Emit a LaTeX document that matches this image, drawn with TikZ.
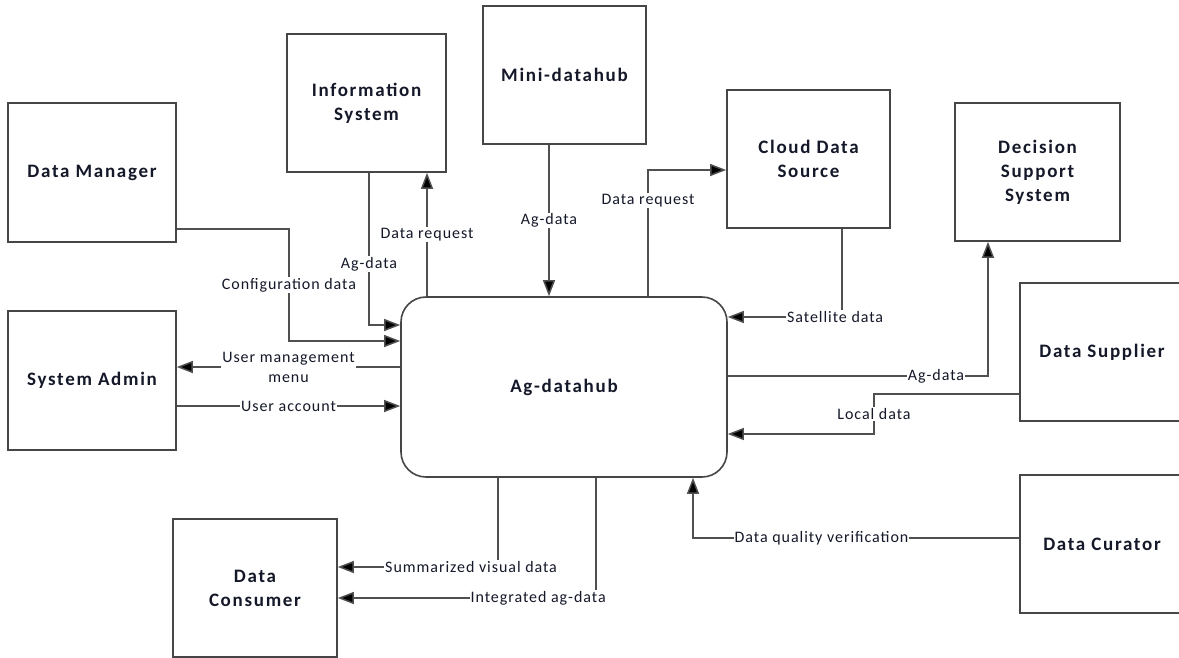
\documentclass[tikz,border=0pt]{standalone}
\usepackage{fontspec}
\setmainfont{Carlito}
\newfontfamily\entityfont[LetterSpace=9]{Carlito}
\newfontfamily\flowfont[LetterSpace=6]{Carlito}
\usetikzlibrary{arrows.meta}
\definecolor{edgegray}{RGB}{80,80,80}
\definecolor{boxgray}{RGB}{70,70,70}
\definecolor{inktext}{RGB}{20,24,40}
\tikzset{
  entity/.style={draw=boxgray, line width=1.6pt, fill=white, align=center,
    font=\entityfont\fontsize{19}{24}\selectfont\bfseries, text=inktext, inner sep=0pt},
  flow/.style={draw=edgegray, line width=1.5pt,
    -{Triangle[length=16pt,width=12pt,fill=black]}},
  lbl/.style={fill=white, inner sep=1pt, align=center,
    font=\flowfont\fontsize{16}{20}\selectfont, text=inktext}
}
\begin{document}
\begin{tikzpicture}[x=1pt,y=-1pt]
\useasboundingbox (0,0) rectangle (1179,657);
\clip (0,0) rectangle (1179,657);
\fill[white] (0,0) rectangle (1179,657);

% external entities
\node[entity, minimum width=168pt, minimum height=139pt] (dm)    at (92,172.5)   {Data Manager};
\node[entity, minimum width=159pt, minimum height=138pt] (is)    at (366.5,103)  {Information\\System};
\node[entity, minimum width=163pt, minimum height=138pt] (mini)  at (564.5,75)   {Mini-datahub};
\node[entity, minimum width=163pt, minimum height=138pt] (cloud) at (808.5,159)  {Cloud Data\\Source};
\node[entity, minimum width=165pt, minimum height=138pt] (dss)   at (1037.5,172) {Decision\\Support\\System};
\node[entity, minimum width=168pt, minimum height=139pt] (sa)    at (92,380.5)   {System Admin};
\node[entity, minimum width=164pt, minimum height=138pt] (sup)   at (1102,352)   {Data Supplier};
\node[entity, minimum width=164pt, minimum height=138pt] (cur)   at (1102,544)   {Data Curator};
\node[entity, minimum width=164pt, minimum height=138pt] (con)   at (255,588)    {Data\\Consumer};

% central process
\node[entity, rounded corners=25pt, minimum width=326pt, minimum height=180pt] (hub) at (564,387) {Ag-datahub};

% data flows
\draw[flow] (dm.east |- 0,229) -| node[lbl,pos=0.75]{Configuration data} (289,341) -- (hub.west |- 0,341);
\draw[flow] (is.south -| 369,0) |- node[lbl,pos=0.3]{Ag-data} (hub.west |- 0,325);
\draw[flow] (hub.north -| 427,0) -- node[lbl]{Data request} (is.south -| 427,0);
\draw[flow] (mini.south -| 549,0) -- node[lbl]{Ag-data} (hub.north -| 549,0);
\draw[flow] (hub.north -| 648,0) |- node[lbl,pos=0.378]{Data request} (cloud.west |- 0,170);
\draw[flow] (cloud.south -| 842,0) |- node[lbl,pos=0.53]{Satellite data} (hub.east |- 0,317);
\draw[flow] (hub.east |- 0,376) -| node[lbl,pos=0.40]{Ag-data} (dss.south -| 988,0);
\draw[flow] (sup.west |- 0,394) -| node[lbl,pos=0.75]{Local data} (874,434) -- (hub.east |- 0,434);
\draw[flow] (hub.west |- 0,367) -- node[lbl]{User management\\menu} (sa.east |- 0,367);
\draw[flow] (sa.east |- 0,406) -- node[lbl]{User account} (hub.west |- 0,406);
\draw[flow] (hub.south -| 498,0) |- node[lbl,pos=0.584]{Summarized visual data} (con.east |- 0,567);
\draw[flow] (hub.south -| 596,0) |- node[lbl,pos=0.612]{Integrated ag-data} (con.east |- 0,598);
\draw[flow] (cur.west |- 0,538) -| node[lbl,pos=0.303]{Data quality verification} (hub.south -| 693,0);
\end{tikzpicture}
\end{document}
